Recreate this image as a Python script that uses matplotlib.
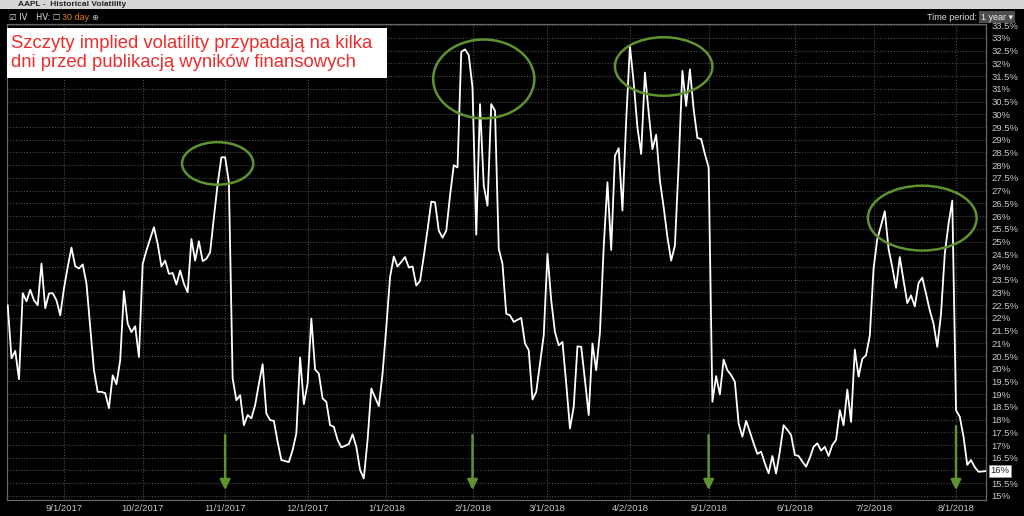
"""AAPL implied volatility, 1 year, with earnings markers."""

import matplotlib

matplotlib.use("Agg")
import matplotlib.pyplot as plt
from matplotlib.patches import Ellipse, Rectangle
import numpy as np
import pandas as pd

START = "2017-08-11"

# daily implied volatility, % (one value per weekday from START)
iv = [
    22.49, 20.41, 20.70, 19.59, 22.97, 22.65, 23.10, 22.69, 22.50, 24.13,
    22.38, 22.96, 22.97, 22.69, 22.10, 23.16, 24.00, 24.76, 24.03, 23.94,
    24.10, 23.35, 21.64, 19.94, 19.09, 19.09, 19.04, 18.45, 19.74, 19.39,
    20.33, 23.05, 21.77, 21.44, 21.67, 20.46, 24.12, 24.65, 25.10, 25.56,
    24.91, 24.02, 24.25, 23.73, 23.76, 23.31, 23.86, 23.34, 23.01, 25.10,
    24.25, 25.01, 24.23, 24.32, 24.58, 25.95, 27.26, 28.31, 28.31, 27.33,
    19.62, 18.76, 18.96, 17.78, 18.18, 18.05, 18.57, 19.40, 20.18, 18.24,
    17.98, 17.95, 17.13, 16.41, 16.37, 16.33, 16.80, 17.46, 20.44, 18.61,
    19.42, 21.97, 19.97, 19.81, 18.83, 18.70, 17.78, 17.72, 17.20, 16.91,
    16.97, 17.04, 17.42, 16.93, 16.02, 15.69, 17.20, 19.22, 18.88, 18.53,
    19.81, 21.64, 23.60, 24.41, 24.02, 24.20, 24.39, 23.98, 24.02, 23.27,
    23.45, 24.42, 25.46, 26.57, 26.54, 25.43, 25.15, 25.43, 26.80, 28.00,
    27.91, 32.46, 32.55, 32.33, 31.05, 25.27, 30.40, 27.20, 26.41, 30.40,
    30.14, 24.71, 24.12, 22.16, 22.10, 21.84, 21.92, 22.00, 20.99, 20.73,
    18.79, 19.09, 20.20, 21.31, 24.51, 22.69, 21.44, 20.92, 21.05, 19.42,
    17.65, 18.50, 20.88, 20.86, 19.55, 18.18, 20.99, 19.94, 21.44, 24.78,
    27.33, 24.67, 28.37, 28.67, 26.22, 29.75, 32.69, 31.25, 29.49, 28.44,
    31.64, 30.07, 28.63, 29.20, 27.39, 26.35, 25.17, 24.25, 24.84, 28.04,
    31.71, 30.33, 31.77, 30.20, 29.07, 29.03, 28.44, 27.91, 18.70, 19.71,
    18.99, 20.36, 19.94, 19.75, 19.48, 17.85, 17.33, 17.95, 17.52, 17.07,
    16.65, 16.74, 16.28, 15.89, 16.57, 15.88, 16.75, 17.78, 17.60, 17.39,
    16.61, 16.57, 16.35, 16.15, 16.50, 16.93, 17.07, 16.78, 16.93, 16.57,
    17.00, 17.20, 18.37, 17.78, 19.18, 17.91, 20.75, 19.69, 20.39, 20.53,
    21.31, 23.93, 25.10, 25.63, 26.19, 24.71, 23.99, 23.18, 24.39, 23.47,
    22.58, 22.88, 22.45, 23.37, 23.58, 22.95, 22.29, 21.77, 20.86, 22.16,
    24.51, 25.69, 26.61, 18.37, 18.11, 17.33, 16.22, 16.41, 16.13, 15.95,
    15.96, 15.98,
]

# earnings publication dates (arrows)
earnings_dates = ["2017-11-01", "2018-02-01", "2018-05-01", "2018-08-01"]
arrow_from = [17.5, 17.5, 17.5, 17.85]

# circled IV peaks: centre date, centre value, width (days), height (pts)
peak_dates = ["2017-10-30", "2018-02-06", "2018-04-13", "2018-07-19"]
peak_values = [28.07, 31.39, 31.88, 25.92]
peak_widths = [19, 27, 26, 29]
peak_heights = [1.67, 3.1, 2.3, 2.55]

note = "Szczyty implied volatility przypadają na kilka\ndni przed publikacją wyników finansowych"

GREEN = "#5f9330"
GRID = "#4a4a4a"
TXT = "#c8c8c8"
W, H = 1024, 516

dates = pd.bdate_range(START, periods=len(iv))
x = np.arange(len(iv))

plt.rcParams["font.family"] = ["Liberation Sans", "DejaVu Sans"]

fig = plt.figure(figsize=(W / 100, H / 100), dpi=100, facecolor="black")
ax = fig.add_axes([7 / W, 1 - 500 / H, 979 / W, 476 / H])
ax.set_facecolor("black")

ax.plot(x, iv, color="white", lw=1.3, zorder=3)

ax.set_xlim(-0.2, len(iv) - 1)
ax.set_ylim(14.84, 33.55)

# month ticks on the first weekday of each month
month_start = [i for i in range(1, len(dates)) if dates[i].month != dates[i - 1].month]
ax.set_xticks(month_start)
ax.set_xticklabels([f"{dates[i].month}/{dates[i].day}/{dates[i].year}" for i in month_start])
yt = np.arange(15, 33.51, 0.5)
ax.set_yticks(yt)
ax.set_yticklabels([f"{v:g}%" for v in yt])
ax.yaxis.tick_right()
ax.tick_params(axis="both", length=0, colors=TXT, labelsize=6.8)
ax.tick_params(axis="y", pad=4)
ax.tick_params(axis="x", pad=3)
ax.grid(True, color=GRID, ls=(0, (1, 1.5)), lw=0.8)
for s in ax.spines.values():
    s.set_color("#666666")
    s.set_linewidth(0.9)

for d, y0 in zip(earnings_dates, arrow_from):
    xi = dates.get_loc(pd.Timestamp(d))
    ax.annotate(
        "", xy=(xi, 15.12), xytext=(xi, y0),
        arrowprops=dict(arrowstyle="-|>", color=GREEN, lw=1.8, mutation_scale=15),
        zorder=4,
    )

for d, v, w, h in zip(peak_dates, peak_values, peak_widths, peak_heights):
    xi = dates.get_loc(pd.Timestamp(d))
    ax.add_patch(Ellipse((xi, v), w, h, fill=False, edgecolor=GREEN, lw=1.8, zorder=4))

# last value tag
ax.annotate(
    f"{iv[-1]:.0f}%", xy=(1.0, iv[-1]), xycoords=("axes fraction", "data"),
    xytext=(3, 0), textcoords="offset points", va="center", ha="left",
    fontsize=6.8, color="#222222",
    bbox=dict(boxstyle="square,pad=0.15", fc="white", ec="#999999", lw=0.5),
)

# annotation box
fig.patches.append(Rectangle((7 / W, 1 - 78 / H), 380 / W, 50 / H,
                             transform=fig.transFigure, fc="white", ec="none", zorder=5))
fig.text(11 / W, 1 - 53 / H, note, color="#ee2d2d", fontsize=13.3,
         va="center", ha="left", linespacing=1.12, zorder=6)

# window chrome
fig.patches.append(Rectangle((0, 1 - 9 / H), 1, 9 / H, transform=fig.transFigure,
                             fc="#d6d6d6", ec="none"))
fig.text(18 / W, 1 - 4.5 / H, "AAPL -  Historical Volatility", color="#222222",
         fontsize=6, fontweight="bold", va="center")
fig.text(9 / W, 1 - 17 / H, "☑ IV", color="#dddddd", fontsize=6, va="center",
         family=["DejaVu Sans"])
fig.text(36 / W, 1 - 17 / H, "HV: ☐", color="#dddddd", fontsize=6, va="center",
         family=["DejaVu Sans"])
fig.text(62 / W, 1 - 17 / H, "30 day", color="#e07b12", fontsize=6.5, va="center")
fig.text(91 / W, 1 - 17 / H, "⊕", color="#bbbbbb", fontsize=6, va="center",
         family=["DejaVu Sans"])
fig.text(977 / W, 1 - 17 / H, "Time period:", color="#dddddd", fontsize=6.5,
         va="center", ha="right")
fig.text(981 / W, 1 - 17 / H, "1 year ▾", color="#eeeeee", fontsize=6.5, va="center",
         family=["Liberation Sans", "DejaVu Sans"],
         bbox=dict(boxstyle="square,pad=0.2", fc="#4d4d4d", ec="none"))

fig.savefig("out.png", dpi=100, facecolor="black")
